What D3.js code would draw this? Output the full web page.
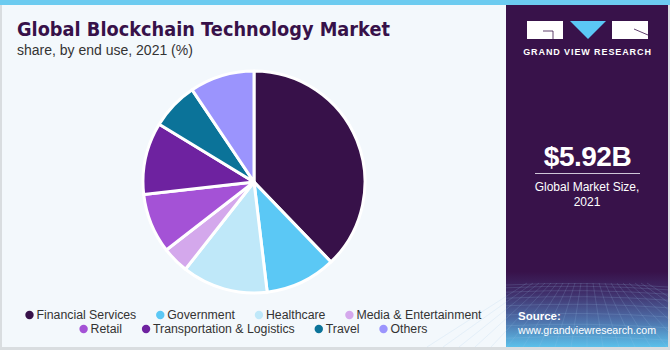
<!DOCTYPE html>
<html><head><meta charset="utf-8">
<script src="https://cdn.jsdelivr.net/npm/d3@7"></script>
<style>body{margin:0;background:#fff}svg{display:block;font-family:"Liberation Sans",Arial,sans-serif}</style>
</head><body><svg id="c" width="670" height="350"></svg>
<script>
const categories = ["Financial Services","Government","Healthcare","Media & Entertainment","Retail","Transportation & Logistics","Travel","Others"];
const shares = [37.8,10.3,12.5,3.9,8.7,10.5,6.9,9.4];
const colors = ["#371149","#5bc8f5","#bfe8f9","#d4a8ec","#a452d6","#6e22a0","#0b7399","#9b94fd"];
const legendRows = [[0,1,2,3],[4,5,6,7]];

const svg = d3.select("#c");
// background
svg.append("rect").attr("x",0).attr("y",0).attr("width",670).attr("height",350).attr("fill","#d9dde0");
svg.append("rect").attr("x",2).attr("y",0).attr("width",666).attr("height",347).attr("fill","#f3f8fc");
svg.append("rect").attr("x",0).attr("y",0).attr("width",670).attr("height",5).attr("fill","#6ccbf0");

// right panel
const defs = svg.append("defs");
const g1 = defs.append("linearGradient").attr("id","pg").attr("x1",0).attr("y1",0).attr("x2",0).attr("y2",1);
g1.append("stop").attr("offset","0").attr("stop-color","#38124a");
g1.append("stop").attr("offset","0.78").attr("stop-color","#38124a");
g1.append("stop").attr("offset","0.84").attr("stop-color","#3f2d69");
g1.append("stop").attr("offset","0.92").attr("stop-color","#4d6ea8");
g1.append("stop").attr("offset","1").attr("stop-color","#5cc0ea");
svg.append("rect").attr("x",506).attr("y",5).attr("width",162).attr("height",342).attr("fill","url(#pg)");
// faint grid
const grid = svg.append("g").attr("stroke","#9fc6ea").attr("stroke-opacity",0.25).attr("stroke-width",0.7).attr("fill","none");
for(let i=0;i<9;i++){const y=285+i*i*0.8+i*2;grid.append("path").attr("d",`M506,${y} Q587,${y-4} 668,${y+2}`);}
for(let i=-10;i<=10;i++){grid.append("line").attr("x1",587+i*6).attr("y1",283).attr("x2",587+i*16).attr("y2",347);}

// logo
svg.append("rect").attr("x",527).attr("y",21).attr("width",36).attr("height",18).attr("fill","#fff");
svg.append("path").attr("d","M543,31 L553,31 L553,39").attr("stroke","#38124a").attr("stroke-width",0.8).attr("fill","none");
svg.append("path").attr("d","M570,21 L606,21 L588,39 Z").attr("fill","#5bc8f5");
svg.append("rect").attr("x",612).attr("y",21).attr("width",36).attr("height",18).attr("fill","#fff");
svg.append("path").attr("d","M634,29 L648,35").attr("stroke","#38124a").attr("stroke-width",0.8);
svg.append("text").attr("x",587.5).attr("y",55).attr("text-anchor","middle").attr("fill","#fff")
  .attr("font-size",9).attr("font-weight","bold").attr("letter-spacing",0.9).text("GRAND VIEW RESEARCH");

svg.append("text").attr("x",587.5).attr("y",166).attr("text-anchor","middle").attr("fill","#fff")
  .attr("font-size",28).attr("font-weight","bold").attr("letter-spacing",-0.5).text("$5.92B");
svg.append("line").attr("x1",535).attr("x2",640).attr("y1",173.5).attr("y2",173.5).attr("stroke","#cfc6d8").attr("stroke-width",1);
svg.append("text").attr("x",587).attr("y",191).attr("text-anchor","middle").attr("fill","#fff").attr("font-size",12).text("Global Market Size,");
svg.append("text").attr("x",587).attr("y",206).attr("text-anchor","middle").attr("fill","#fff").attr("font-size",12).text("2021");
svg.append("text").attr("x",518).attr("y",320).attr("fill","#fff").attr("font-size",11.5).attr("font-weight","bold").text("Source:");
svg.append("text").attr("x",518).attr("y",334).attr("fill","#fff").attr("font-size",11).attr("textLength",138).attr("lengthAdjust","spacingAndGlyphs").text("www.grandviewresearch.com");

// titles
svg.append("text").attr("x",17).attr("y",36).attr("fill","#371149").attr("font-size",19).attr("font-weight","900")
  .attr("font-family","'DejaVu Sans',sans-serif").attr("textLength",373).attr("lengthAdjust","spacingAndGlyphs").text("Global Blockchain Technology Market");
svg.append("text").attr("x",17).attr("y",55).attr("fill","#333").attr("font-size",14).text("share, by end use, 2021 (%)");

// pie
const pie = d3.pie().sort(null).value(d=>d)(shares);
const arc = d3.arc().innerRadius(0).outerRadius(111);
svg.append("g").attr("transform","translate(254,182)").selectAll("path").data(pie).join("path")
  .attr("d",arc).attr("fill",(d,i)=>colors[i]).attr("stroke","#fff").attr("stroke-width",3).attr("stroke-linejoin","round");

// legend
const legY = [315,329];
legendRows.forEach((row,ri)=>{
  const g = svg.append("g");
  let x = 0;
  const items = [];
  row.forEach(i=>{
    const t = g.append("text").attr("y",legY[ri]+4).attr("font-size",12.3).attr("fill","#333").text(categories[i]);
    const w = t.node().getComputedTextLength();
    items.push({i,t,w});
  });
  const gap = 21, cw = 10;
  const total = items.reduce((s,d)=>s+cw+d.w,0)+gap*(items.length-1);
  x = 253 - total/2;
  items.forEach(d=>{
    g.append("circle").attr("cx",x+4).attr("cy",legY[ri]).attr("r",4.2).attr("fill",colors[d.i]);
    d.t.attr("x",x+cw+1);
    x += cw + d.w + gap;
  });
});
</script></body></html>
